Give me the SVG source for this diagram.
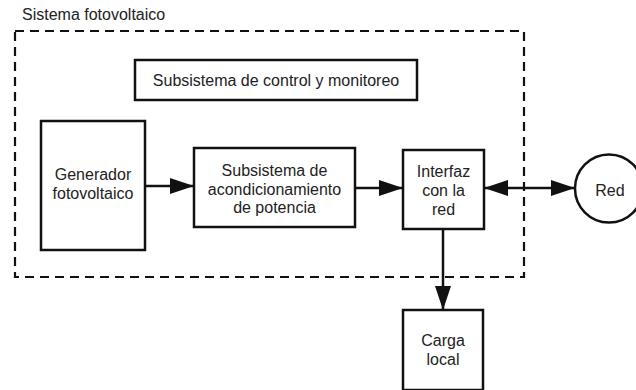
<svg xmlns="http://www.w3.org/2000/svg" width="636" height="390" viewBox="0 0 636 390">
<style>
.box{fill:#fff;stroke:#111;stroke-width:2.5}
.t{font-family:"Liberation Sans",Arial,sans-serif;font-size:16px;fill:#222;text-anchor:middle}
.c{stroke:#111;stroke-width:2.5;fill:none}
</style>
<defs>
<marker id="ahb" markerWidth="24" markerHeight="16" refX="24" refY="8" orient="auto-start-reverse" markerUnits="userSpaceOnUse">
<path d="M0,0 L24,8 L0,16 Z" fill="#111"/>
</marker>
</defs>
<rect width="636" height="390" fill="#fff"/>
<g id="sistema">
<rect x="15" y="31" width="509" height="246" fill="none" stroke="#111" stroke-width="2.2" stroke-dasharray="9,6"/>
<text x="22" y="20" class="t" style="text-anchor:start">Sistema fotovoltaico</text>
</g>
<g id="control">
<rect x="135" y="60" width="282" height="40" class="box"/>
<text x="276" y="86" class="t">Subsistema de control y monitoreo</text>
</g>
<g id="generador">
<rect x="41" y="121" width="104" height="129" class="box"/>
<text x="93" y="180" class="t">Generador</text>
<text x="93" y="199" class="t">fotovoltaico</text>
</g>
<g id="acond">
<rect x="194" y="148" width="161" height="79" class="box"/>
<text x="274.5" y="176" class="t">Subsistema de</text>
<text x="274.5" y="195" class="t">acondicionamiento</text>
<text x="274.5" y="213" class="t">de potencia</text>
</g>
<g id="interfaz">
<rect x="403" y="150" width="81" height="79" class="box"/>
<text x="443.5" y="177" class="t">Interfaz</text>
<text x="443.5" y="196" class="t">con la</text>
<text x="443.5" y="215" class="t">red</text>
</g>
<g id="red">
<circle cx="609" cy="188.5" r="34" class="box"/>
<text x="610" y="196" class="t">Red</text>
</g>
<g id="carga">
<rect x="403" y="310" width="80" height="80" class="box"/>
<text x="443" y="346" class="t">Carga</text>
<text x="443" y="365" class="t">local</text>
</g>
<g id="connectors">
<line x1="145" y1="186" x2="194" y2="186" class="c" marker-end="url(#ahb)"/>
<line x1="355" y1="188" x2="403" y2="188" class="c" marker-end="url(#ahb)"/>
<line x1="484" y1="188" x2="575" y2="188" class="c" marker-start="url(#ahb)" marker-end="url(#ahb)"/>
<line x1="443" y1="229" x2="443" y2="310" class="c" marker-end="url(#ahb)"/>
</g>
</svg>
